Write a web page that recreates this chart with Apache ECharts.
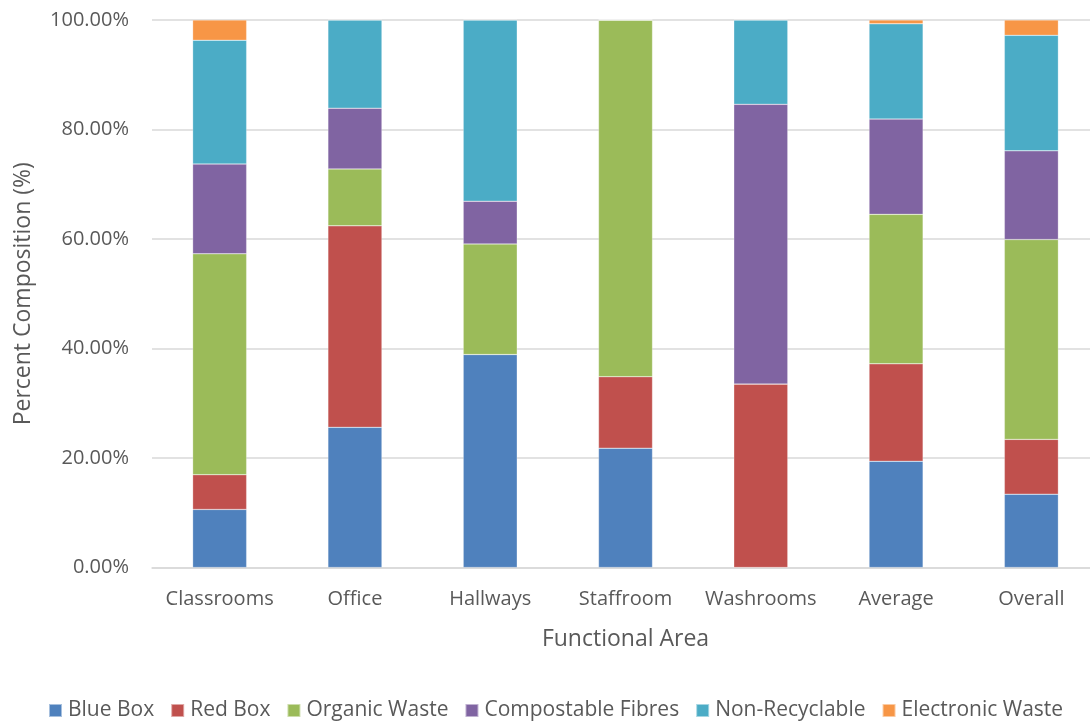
<!DOCTYPE html>
<html>
<head>
<meta charset="utf-8">
<script src="https://cdn.jsdelivr.net/npm/echarts@6/dist/echarts.min.js"></script>
<style>
html,body{margin:0;padding:0;background:#fff;}
#chart{width:1090px;height:721px;}
</style>
</head>
<body>
<div id="chart"></div>
<script>
const categories = ['Classrooms','Office','Hallways','Staffroom','Washrooms','Average','Overall'];
const blueBox = [10.6, 25.6, 38.9, 21.8, 0, 19.4, 13.4];
const redBox = [6.35, 36.8, 0, 13.05, 33.5, 17.8, 10.0];
const organicWaste = [40.35, 10.4, 20.2, 65.15, 0, 27.3, 36.5];
const compostableFibres = [16.4, 11.1, 7.8, 0, 51.1, 17.4, 16.2];
const nonRecyclable = [22.6, 16.1, 33.1, 0, 15.4, 17.4, 21.1];
const electronicWaste = [3.7, 0, 0, 0, 0, 0.7, 2.8];
const yTicks = [0, 20, 40, 60, 80, 100];

const seriesDefs = [
  ['Blue Box', blueBox, '#4F81BD'],
  ['Red Box', redBox, '#C0504D'],
  ['Organic Waste', organicWaste, '#9BBB59'],
  ['Compostable Fibres', compostableFibres, '#8064A2'],
  ['Non-Recyclable', nonRecyclable, '#4BACC6'],
  ['Electronic Waste', electronicWaste, '#F79646']
];

const FONT = '"Open Sans", sans-serif';
const TXT = '#595959';

const chart = echarts.init(document.getElementById('chart'), null, {renderer: 'canvas'});
chart.setOption({
  animation: false,
  backgroundColor: '#fff',
  textStyle: {fontFamily: FONT, color: TXT},
  grid: {left: 152, width: 947, top: 20, bottom: 153.5, containLabel: false, outerBoundsMode: 'none'},
  legend: {
    top: 695,
    left: 43,
    itemWidth: 13,
    itemHeight: 13,
    itemGap: 16,
    icon: 'rect',
    textStyle: {fontFamily: FONT, fontSize: 21, color: TXT, padding: [0,0,0,1]},
    data: seriesDefs.map(s => s[0])
  },
  xAxis: {
    type: 'category',
    data: categories,
    name: 'Functional Area',
    nameLocation: 'middle',
    nameGap: 60,
    nameTextStyle: {fontFamily: FONT, fontSize: 23, color: TXT},
    axisLine: {lineStyle: {color: '#d9d9d9', width: 1.5}},
    axisTick: {show: false},
    axisLabel: {fontFamily: FONT, fontSize: 20, color: TXT, margin: 22, interval: 0}
  },
  yAxis: {
    type: 'value',
    min: yTicks[0],
    max: yTicks[yTicks.length - 1],
    interval: 20,
    name: 'Percent Composition (%)',
    nameLocation: 'middle',
    nameGap: 117,
    nameTextStyle: {fontFamily: FONT, fontSize: 23, color: TXT},
    axisLine: {show: false},
    axisTick: {show: false},
    splitLine: {lineStyle: {color: '#d9d9d9', width: 1.5}},
    axisLabel: {fontFamily: FONT, fontSize: 20, color: TXT, margin: 23,
      formatter: v => v.toFixed(2) + '%'}
  },
  series: seriesDefs.map(([name, data, color]) => ({
    name: name,
    type: 'bar',
    stack: 'total',
    data: data,
    barWidth: 54,
    itemStyle: {color: color, borderColor: 'rgba(255,255,255,0.5)', borderWidth: 0.5}
  }))
});
</script>
</body>
</html>
